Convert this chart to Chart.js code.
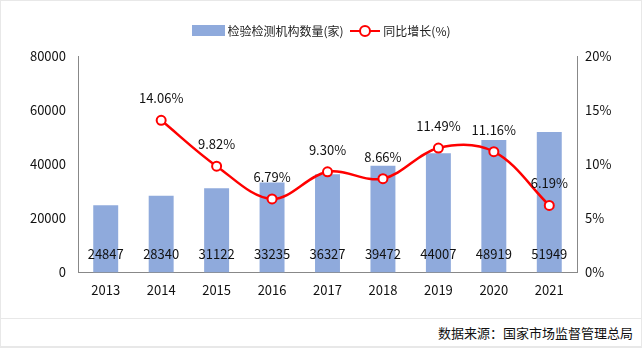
<!DOCTYPE html>
<html>
<head>
<meta charset="utf-8">
<script src="https://cdn.jsdelivr.net/npm/chart.js@4"></script>
<style>
  body { margin: 0; background: #fff; font-family: "Microsoft YaHei", "Noto Sans CJK SC", sans-serif; }
  #wrap { position: relative; width: 640px; height: 346px; border: 1px solid #e8e8e8; }
  #box { position: absolute; left: 0; top: 0; width: 640px; height: 315px; }
  #legend { position: absolute; top: 19px; left: 0; width: 640px; text-align: center; font-size: 12px; color: #222; }
  #legend span { display: inline-block; vertical-align: middle; }
  .barKey { width: 33px; height: 11px; background: #8faadc; margin-right: 3px; }
  .lineKey { position: relative; width: 30px; height: 12px; margin: 0 3px 0 4px; }
  .lineKey i { position: absolute; left: 0; top: 5px; width: 30px; height: 2px; background: #ff0000; }
  .lineKey b { position: absolute; left: 9px; top: 0; width: 8px; height: 8px; border: 2px solid #ff0000; border-radius: 50%; background: #fff; }
  #source { position: absolute; left: 0; top: 317px; width: 640px; height: 27px; border-top: 1px solid #e8e8e8; border-bottom: 1px solid #e8e8e8; font-size: 13px; color: #111; text-align: right; line-height: 27px; }
  #source span { margin-right: 8px; }
</style>
</head>
<body>
<div id="wrap">
  <div id="box"><canvas id="chart"></canvas></div>
  <div id="legend">
    <span class="barKey"></span><span>检验检测机构数量(家)</span>
    <span class="lineKey"><i></i><b></b></span><span>同比增长(%)</span>
  </div>
  <div id="source"><span>数据来源：国家市场监督管理总局</span></div>
</div>
<script>
const years = ['2013', '2014', '2015', '2016', '2017', '2018', '2019', '2020', '2021'];
const orgCount = [24847, 28340, 31122, 33235, 36327, 39472, 44007, 48919, 51949];
const growthRate = [null, 14.06, 9.82, 6.79, 9.30, 8.66, 11.49, 11.16, 6.19];
const leftTicks = [0, 20000, 40000, 60000, 80000];
const rightTicks = [0, 5, 10, 15, 20];

const tickFont = { family: 'Microsoft YaHei, Noto Sans CJK SC, sans-serif', size: 13 };

// draws the numbers on bars and points
const valueLabels = {
  id: 'valueLabels',
  afterDatasetsDraw(chart) {
    const ctx = chart.ctx;
    ctx.save();
    ctx.font = '13px Microsoft YaHei, Noto Sans CJK SC, sans-serif';
    ctx.fillStyle = '#111';
    ctx.textAlign = 'center';
    ctx.textBaseline = 'middle';
    const bars = chart.getDatasetMeta(1).data;
    bars.forEach((bar, i) => {
      ctx.fillText(orgCount[i], bar.x, chart.scales.y.getPixelForValue(0) - 18);
    });
    const pts = chart.getDatasetMeta(0).data;
    pts.forEach((pt, i) => {
      if (growthRate[i] == null) return;
      ctx.fillText(growthRate[i].toFixed(2) + '%', pt.x, pt.y - 22);
    });
    ctx.restore();
  }
};

new Chart(document.getElementById('chart'), {
  data: {
    labels: years,
    datasets: [
      {
        type: 'line',
        label: '同比增长(%)',
        data: growthRate,
        yAxisID: 'y1',
        borderColor: '#ff0000',
        borderWidth: 2.5,
        backgroundColor: '#ffffff',
        pointBorderColor: '#ff0000',
        pointBorderWidth: 2,
        pointRadius: 4.5,
        tension: 0.35,
        order: 0
      },
      {
        type: 'bar',
        label: '检验检测机构数量(家)',
        data: orgCount,
        yAxisID: 'y',
        backgroundColor: '#8faadc',
        barPercentage: 0.45,
        categoryPercentage: 1,
        order: 1
      }
    ]
  },
  options: {
    responsive: true,
    maintainAspectRatio: false,
    animation: false,
    layout: { padding: { top: 55, left: 0, right: 0, bottom: 8 } },
    plugins: { legend: { display: false }, tooltip: { enabled: false } },
    scales: {
      x: {
        grid: { display: false, drawTicks: false },
        border: { color: '#888' },
        ticks: { color: '#111', font: tickFont, padding: 10 }
      },
      y: {
        position: 'left',
        min: 0, max: 80000,
        afterBuildTicks: (s) => { s.ticks = leftTicks.map(v => ({ value: v })); },
        afterFit: (s) => { s.width = 77; },
        grid: { display: false, drawOnChartArea: false, tickLength: 4, tickColor: '#888' },
        border: { color: '#888' },
        ticks: { color: '#111', font: tickFont, padding: 8, callback: (v) => String(v) }
      },
      y1: {
        position: 'right',
        min: 0, max: 20,
        afterBuildTicks: (s) => { s.ticks = rightTicks.map(v => ({ value: v })); },
        afterFit: (s) => { s.width = 64; },
        grid: { display: false, drawOnChartArea: false, tickLength: 4, tickColor: '#888' },
        border: { color: '#888' },
        ticks: { color: '#111', font: tickFont, padding: 4, callback: (v) => v + '%' }
      }
    }
  },
  plugins: [valueLabels]
});
</script>
</body>
</html>
